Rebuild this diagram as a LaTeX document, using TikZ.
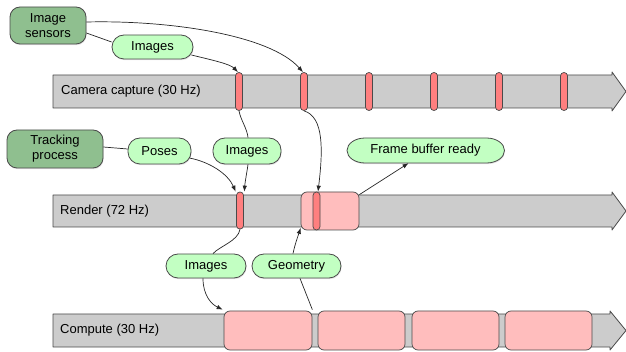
\documentclass[tikz,border=0pt]{standalone}
\usepackage{fontspec}
\setmainfont{Liberation Sans}
\usetikzlibrary{arrows.meta,calc,shadows}

\definecolor{barfill}{HTML}{CCCCCC}
\definecolor{edgec}{HTML}{4A4A4A}
\definecolor{markfill}{HTML}{FF7F7F}
\definecolor{blockfill}{HTML}{FFBDBD}
\definecolor{msgfill}{HTML}{C2FFC2}
\definecolor{srcfill}{HTML}{8FBF8F}

\tikzset{
  softshadow/.style={drop shadow={opacity=0.22, shadow xshift=0.6pt, shadow yshift=-1.2pt}},
  bar/.style={draw=edgec, fill=barfill, line width=0.8pt, line join=round},
  barlabel/.style={anchor=west, inner sep=0pt},
  marker/.style={draw=edgec, fill=markfill, line width=0.7pt, rounded corners=3.4pt,
    minimum width=7pt, inner sep=0pt},
  block/.style={draw=edgec, fill=blockfill, line width=0.7pt, rounded corners=6pt, inner sep=0pt},
  source/.style={draw=edgec, fill=srcfill, line width=0.8pt, rounded corners=10pt,
    align=center, inner sep=0pt, softshadow},
  msgshape/.style={draw=edgec, fill=msgfill, line width=0.8pt, softshadow},
  msg/.style={msgshape, rounded corners=12pt, inner sep=0pt, minimum height=24pt},
  link/.style={draw=black!85, line width=0.7pt},
  flow/.style={link, -{Latex[length=6pt,width=4.5pt]}},
}

\begin{document}
\begin{tikzpicture}[x=1pt, y=-1pt, font=\fontsize{13}{15}\selectfont]
\useasboundingbox (0,0) rectangle (626,352);

% timeline bars with arrow heads
\draw[bar] (53,75) -- (612,75) -- (612,72) -- (626,91.5) -- (612,111) -- (612,108) -- (53,108) -- cycle;
\draw[bar] (53,195) -- (612,195) -- (612,192) -- (626,211) -- (612,230) -- (612,227) -- (53,227) -- cycle;
\draw[bar] (53,314) -- (610,314) -- (610,311) -- (626,330.5) -- (610,350) -- (610,347) -- (53,347) -- cycle;

\node[barlabel] (lcam) at (61,91.5) {Camera capture (30 Hz)};
\node[barlabel] (lren) at (60,211.5) {Render (72 Hz)};
\node[barlabel] (lcmp) at (60,330.5) {Compute (30 Hz)};

% camera frames
\foreach \i/\x in {1/239,2/304,3/369,4/434,5/499,6/564}
  \node[marker, minimum height=38pt] (cm\i) at (\x,91.5) {};

% render frame and render pass
\node[marker, minimum height=37pt] (rm) at (240,210.5) {};
\node[block, minimum width=58pt, minimum height=38pt] (pb) at (330,211) {};
\node[marker, minimum height=38pt] (pm) at (316.5,211) {};

% compute jobs
\foreach \i/\x/\w in {1/268/88,2/361.5/87,3/455.5/87,4/548.5/87}
  \node[block, minimum width=\w pt, minimum height=39pt] (cb\i) at (\x,330.5) {};

% sources
\node[source, minimum width=76pt, minimum height=37pt] (sens) at (48,25.5) {Image\\sensors};
\node[source, minimum width=96pt, minimum height=38pt] (trk) at (55,149) {Tracking\\process};

% messages
\node[msg, minimum width=81pt] (img1) at (152.5,47) {Images};
\node[msg, minimum width=63pt, minimum height=26pt] (pose) at (159.5,151) {Poses};
\node[msg, minimum width=68pt, minimum height=26pt] (img2) at (247,151) {Images};
% frame buffer signal: capsule with elliptic ends
\path[msgshape] (365,138) -- (486.5,138)
  arc[start angle=90, end angle=-90, x radius=18pt, y radius=12.5pt]
  -- (365,163)
  arc[start angle=270, end angle=90, x radius=18pt, y radius=12.5pt] -- cycle;
\node[inner sep=0pt, minimum width=157pt, minimum height=25pt] (fb) at (425.5,150.5) {Frame buffer ready};
\node[msg, minimum width=80pt] (img3) at (206,266) {Images};
\node[msg, minimum width=89pt] (geo) at (296.5,266) {Geometry};

% sensors to camera capture
\draw[link] ([yshift=-7.5pt]sens.east) -- ([yshift=5pt]img1.west);
\draw[flow] ([xshift=-2pt,yshift=-8pt]img1.east) .. controls (212,60) and (230,64) .. ([xshift=-1pt]cm1.north);
\draw[flow] ([yshift=3.5pt]sens.east) .. controls (170,20) and (270,35) .. ([xshift=-1pt]cm2.north);

% camera capture and tracking to render
\draw[link] (cm1.south) .. controls (241,121) and (247,128) .. ([xshift=1pt]img2.north);
\draw[flow] ([xshift=1pt]img2.south) .. controls (247,172) and (245,182) .. ([xshift=0.5pt]rm.north east);
\draw[link] ([yshift=2pt]trk.east) -- ([yshift=2pt]pose.west);
\draw[flow] ([xshift=-2pt,yshift=-7pt]pose.east) .. controls (210,162) and (228,174) .. ([xshift=-0.5pt]rm.north west);
\draw[flow] (cm2.south) .. controls (324,117) and (323,150) .. ([xshift=1.5pt]pm.north);
\draw[flow] ([yshift=-3pt]pb.north east) -- ([xshift=-17pt]fb.south);

% render and compute exchange
\draw[link] (rm.south) .. controls (238,241) and (220,246) .. ([xshift=7pt]img3.north);
\draw[flow] ([xshift=-3pt]img3.south) .. controls (203,295) and (211,304) .. ([xshift=-1pt,yshift=1pt]cb1.north west);
\draw[link] ([yshift=1pt]cb1.north east) -- ([xshift=3.5pt]geo.south);
\draw[flow] ([xshift=-3.5pt]geo.north) .. controls (295,244) and (298,236) .. ([xshift=0pt,yshift=2.5pt]pb.south west);
\end{tikzpicture}
\end{document}
